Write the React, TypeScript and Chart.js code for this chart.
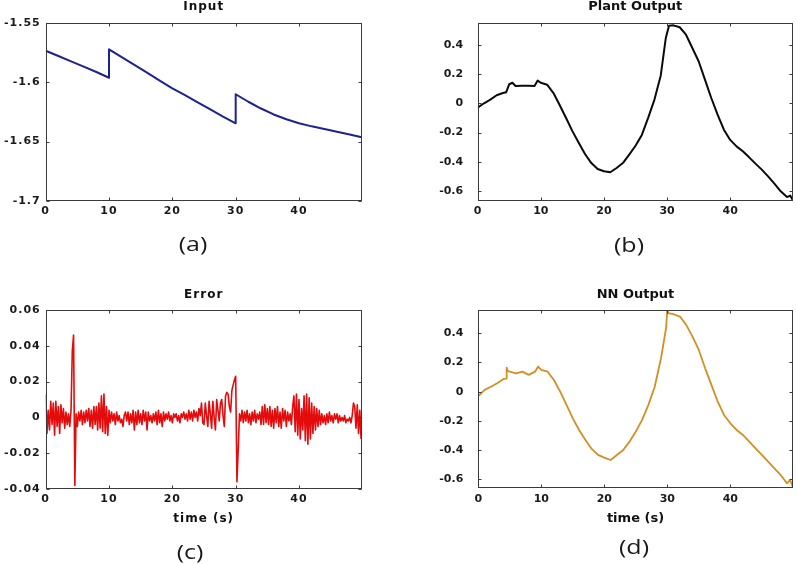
import React, { useEffect, useRef } from "react";
import { Chart, registerables } from "chart.js";

Chart.register(...registerables);

// ---------------- data ----------------
const timeMax = 49.9;
const timeTicks = [0, 10, 20, 30, 40];
const inputTicks = [-1.7, -1.65, -1.6, -1.55];
const outputTicks = [-0.6, -0.4, -0.2, 0, 0.2, 0.4];
const errorTicks = [-0.04, -0.02, 0, 0.02, 0.04, 0.06];

const inputTime = [0, 2, 4, 6, 8, 10, 10, 12, 14, 16, 18, 20, 22, 24, 26, 28, 30, 30, 32, 34, 36, 38, 40, 42, 44, 46, 48, 49.9];
const inputValues = [-1.5736, -1.578, -1.5825, -1.587, -1.5915, -1.5963, -1.5724, -1.579, -1.5855, -1.592, -1.5987, -1.6052, -1.611, -1.617, -1.623, -1.629, -1.6346, -1.6102, -1.6165, -1.6222, -1.6272, -1.6312, -1.6346, -1.6372, -1.6395, -1.6418, -1.644, -1.6464];

const plantTime = [0, 1, 2, 3, 4, 4.5, 5, 5.5, 6, 7, 8, 9, 9.5, 10, 11, 12, 13, 14, 15, 16, 17, 18, 19, 20, 21, 22, 23, 24, 25, 26, 27, 28, 29, 29.8, 30.3, 31, 32, 33, 34, 35, 36, 37, 38, 39, 40, 41, 42, 43, 44, 45, 46, 47, 48, 49, 49.5, 49.9];
const plantValues = [-0.03, 0.0, 0.025, 0.055, 0.07, 0.075, 0.13, 0.14, 0.118, 0.12, 0.12, 0.118, 0.155, 0.14, 0.127, 0.07, -0.014, -0.1, -0.19, -0.27, -0.346, -0.408, -0.449, -0.464, -0.471, -0.442, -0.408, -0.35, -0.29, -0.216, -0.1, 0.025, 0.19, 0.446, 0.53, 0.532, 0.519, 0.468, 0.377, 0.287, 0.161, 0.036, -0.078, -0.18, -0.25, -0.294, -0.328, -0.369, -0.412, -0.453, -0.499, -0.549, -0.601, -0.64, -0.63, -0.66];

const nnTime = [0, 1, 2, 3, 4, 4.4, 4.5, 4.7, 5, 6, 7, 8, 9, 9.5, 10, 11, 12, 13, 14, 15, 16, 17, 18, 19, 20, 21, 22, 23, 24, 25, 26, 27, 28, 29, 29.8, 30, 30.1, 31, 32, 33, 34, 35, 36, 37, 38, 39, 40, 41, 42, 43, 44, 45, 46, 47, 48, 49, 49.5, 49.9];
const nnValues = [-0.03, 0.012, 0.034, 0.058, 0.087, 0.09, 0.165, 0.14, 0.137, 0.126, 0.137, 0.115, 0.137, 0.172, 0.149, 0.137, 0.08, 0.0, -0.091, -0.183, -0.263, -0.331, -0.393, -0.434, -0.453, -0.469, -0.435, -0.4, -0.343, -0.274, -0.194, -0.091, 0.034, 0.229, 0.435, 0.56, 0.538, 0.531, 0.515, 0.458, 0.377, 0.286, 0.16, 0.046, -0.069, -0.16, -0.217, -0.263, -0.297, -0.343, -0.389, -0.434, -0.48, -0.526, -0.572, -0.629, -0.606, -0.652];

// error sampled every 0.2 s, from 0 to 49.8 s
const errorStep = 0.2;
const errorValues = [
  0.013, -0.009, 0.004, -0.007, 0.009, -0.004, 0.008, -0.010, 0.009, -0.005,
  0.006, -0.009, 0.007, -0.003, 0.005, -0.006, 0.003, -0.004, 0.002, -0.005,
  0.004, 0.037, 0.046, -0.038, 0.002, -0.005, 0.003, -0.002, 0.004, -0.004,
  0.003, -0.003, 0.004, -0.002, 0.005, -0.005, 0.004, -0.006, 0.006, -0.004,
  0.006, -0.007, 0.008, -0.006, 0.012, -0.008, 0.013, -0.009, 0.006, -0.010,
  0.004, -0.003, 0.003, -0.002, 0.002, -0.004, 0.003, -0.002, 0.001, -0.003,
  -0.001, -0.005, 0.001, 0.003, -0.002, 0.003, -0.004, 0.002, -0.003, 0.004,
  -0.007, 0.003, -0.004, 0.004, -0.003, 0.002, -0.004, 0.004, -0.002, 0.003,
  -0.007, 0.003, -0.002, 0.001, -0.003, 0.002, -0.002, 0.003, -0.004, 0.004,
  -0.003, 0.002, -0.005, 0.003, -0.002, 0.002, -0.001, 0.003, -0.002, 0.001,
  -0.003, 0.002, 0.000, 0.002, -0.002, 0.001, -0.003, 0.002, 0.000, 0.003,
  -0.001, 0.002, -0.002, 0.004, -0.001, 0.003, -0.002, 0.004, 0.000, 0.003,
  -0.002, 0.005, 0.001, 0.008, -0.003, -0.004, 0.008, 0.001, -0.005, 0.009,
  0.002, -0.006, 0.009, 0.000, -0.007, 0.010, 0.004, -0.002, 0.008, 0.010,
  0.001, -0.005, 0.012, 0.014, 0.013, 0.006, 0.003, 0.015, 0.018, 0.021,
  0.023, -0.036, -0.018, 0.002, -0.002, 0.004, -0.003, 0.003, -0.002, 0.004,
  -0.003, 0.002, -0.004, 0.003, -0.002, 0.004, -0.003, 0.002, -0.001, 0.003,
  -0.004, 0.006, -0.004, 0.007, -0.003, 0.005, -0.004, 0.006, -0.005, 0.004,
  -0.006, 0.005, -0.003, 0.006, -0.005, 0.003, -0.006, 0.005, -0.002, 0.004,
  -0.005, 0.003, -0.002, 0.002, -0.004, 0.006, 0.012, -0.008, 0.013, -0.010,
  0.010, -0.012, 0.005, -0.007, 0.012, -0.013, 0.013, -0.015, 0.011, -0.012,
  0.008, -0.009, 0.006, -0.007, 0.005, -0.005, 0.004, -0.004, 0.002, -0.003,
  0.001, -0.004, 0.002, -0.003, 0.003, -0.002, 0.001, -0.003, 0.002, -0.001,
  0.002, -0.003, 0.001, -0.002, 0.000, -0.002, 0.001, -0.003, -0.001, -0.002,
  0.000, -0.003, 0.001, 0.008, 0.006, -0.006, 0.007, -0.009, 0.004, -0.012,
];
const errorTime = errorValues.map((_, i) => Math.round(i * errorStep * 10) / 10);

// ---------------- styling / layout ----------------
const FAMILY = "'DejaVu Sans', sans-serif";
const TICK_FONT = { family: FAMILY, weight: "bold" as const, size: 11 };

const fmt = (v: number) => {
  const r = Math.round(v * 1000) / 1000;
  return r === 0 ? "0" : String(r);
};

const framePlugin = {
  id: "matlabFrame",
  beforeDraw(chart: any, _args: any, opts: any) {
    try { chart.ctx.letterSpacing = (opts && opts.spacing) || "0px"; } catch (e) { /* ignore */ }
  },
  afterDraw(chart: any) {
    const ctx = chart.ctx;
    const { left, right, top, bottom } = chart.chartArea;
    const L = Math.round(left) + 0.5, R = Math.round(right) - 0.5;
    const T = Math.round(top) + 0.5, B = Math.round(bottom) - 0.5;
    ctx.save();
    ctx.strokeStyle = "#3a3a3a";
    ctx.lineWidth = 1;
    ctx.strokeRect(L, T, R - L, B - T);
    const tl = 3;
    ctx.beginPath();
    const xs = chart.scales.x;
    xs.ticks.forEach((t: any) => {
      const px = Math.round(xs.getPixelForValue(t.value)) + 0.5;
      ctx.moveTo(px, B); ctx.lineTo(px, B - tl);
      ctx.moveTo(px, T); ctx.lineTo(px, T + tl);
    });
    const ys = chart.scales.y;
    ys.ticks.forEach((t: any) => {
      const py = Math.round(ys.getPixelForValue(t.value)) + 0.5;
      ctx.moveTo(L, py); ctx.lineTo(L + tl, py);
      ctx.moveTo(R, py); ctx.lineTo(R - tl, py);
    });
    ctx.stroke();
    ctx.restore();
    try { ctx.letterSpacing = "0px"; } catch (e) { /* ignore */ }
  },
};

type PanelSpec = {
  id: string;
  left: number; top: number; width: number; height: number;
  title: string; label: string; labelX: number; labelY: number; xTitle?: string;
  times: number[]; values: number[];
  color: string; lineWidth: number;
  yMin: number; yMax: number; yTicks: number[];
  pad: { left: number; right: number; top: number; bottom: number };
  yAxisWidth: number; xAxisHeight: number; yTickPad: number;
  titlePad: { top: number; bottom: number };
  titleSize: number; spacing: string;
  xTitlePadBottom?: number;
};

const panels: PanelSpec[] = [
  {
    id: "a", left: 0, top: 0, width: 400, height: 268,
    title: "Input", label: "(a)", labelX: 193, labelY: 244,
    times: inputTime, values: inputValues, color: "#1c2390", lineWidth: 2,
    yMin: -1.7, yMax: -1.55, yTicks: inputTicks,
    pad: { left: 0, right: 38.3, top: 0, bottom: 37 },
    yAxisWidth: 45.7, xAxisHeight: 30, yTickPad: 5,
    titlePad: { top: 1, bottom: 9.7 }, titleSize: 12, spacing: "1px",
  },
  {
    id: "b", left: 400, top: 0, width: 397, height: 268,
    title: "Plant Output", label: "(b)", labelX: 629.3, labelY: 244.7,
    times: plantTime, values: plantValues, color: "#0a0a0a", lineWidth: 2,
    yMin: -0.667, yMax: 0.55, yTicks: outputTicks,
    pad: { left: 0, right: 4.3, top: 0, bottom: 37 },
    yAxisWidth: 77.7, xAxisHeight: 30, yTickPad: 14.5,
    titlePad: { top: 0.5, bottom: 9.2 }, titleSize: 13, spacing: "0px",
  },
  {
    id: "c", left: 0, top: 280, width: 400, height: 284,
    title: "Error", label: "(c)", labelX: 190, labelY: 551.7, xTitle: "time (s)",
    times: errorTime, values: errorValues, color: "#e30b0b", lineWidth: 1.6,
    yMin: -0.04, yMax: 0.06, yTicks: errorTicks,
    pad: { left: 0, right: 38.3, top: 0, bottom: 35 },
    yAxisWidth: 45.7, xAxisHeight: 40, yTickPad: 5,
    titlePad: { top: 9, bottom: 9 }, titleSize: 12, spacing: "1px",
    xTitlePadBottom: 4.5,
  },
  {
    id: "d", left: 400, top: 280, width: 397, height: 284,
    title: "NN Output", label: "(d)", labelX: 633.5, labelY: 547, xTitle: "time (s)",
    times: nnTime, values: nnValues, color: "#d38f22", lineWidth: 1.8,
    yMin: -0.663, yMax: 0.56, yTicks: outputTicks,
    pad: { left: 0, right: 4.3, top: 0, bottom: 35 },
    yAxisWidth: 78.3, xAxisHeight: 40.7, yTickPad: 15,
    titlePad: { top: 8.5, bottom: 8.5 }, titleSize: 13, spacing: "0px",
    xTitlePadBottom: 4,
  },
];

function buildConfig(p: PanelSpec): any {
  const titleFont = { family: FAMILY, weight: "bold" as const, size: p.titleSize, lineHeight: 1 };
  return {
    type: "line",
    data: {
      datasets: [
        {
          label: p.title,
          data: p.times.map((t, i) => ({ x: t, y: p.values[i] })),
          borderColor: p.color,
          backgroundColor: p.color,
          borderWidth: p.lineWidth,
          pointRadius: 0,
          tension: 0,
          fill: false,
          borderJoinStyle: "round",
        },
      ],
    },
    options: {
      responsive: false,
      animation: false,
      devicePixelRatio: 1,
      layout: { padding: p.pad },
      plugins: {
        legend: { display: false },
        tooltip: { enabled: false },
        matlabFrame: { spacing: p.spacing },
        title: {
          display: true,
          text: p.title,
          fullSize: false,
          color: "#111",
          font: titleFont,
          padding: p.titlePad,
        },
      },
      scales: {
        x: {
          type: "linear",
          min: 0,
          max: timeMax,
          grid: { display: false, drawTicks: false },
          border: { display: false },
          afterBuildTicks: (s: any) => {
            s.ticks = timeTicks.map((v) => ({ value: v }));
          },
          ticks: {
            maxRotation: 0,
            autoSkip: false,
            padding: 4,
            color: "#1a1a1a",
            font: TICK_FONT,
            callback: (v: number) => fmt(v),
          },
          title: p.xTitle
            ? {
                display: true,
                text: p.xTitle,
                color: "#111",
                font: titleFont,
                padding: { top: 0, bottom: p.xTitlePadBottom },
              }
            : { display: false },
          afterFit: (s: any) => {
            s.height = p.xAxisHeight;
            s.paddingLeft = 0;
            s.paddingRight = 0;
          },
        },
        y: {
          type: "linear",
          min: p.yMin,
          max: p.yMax,
          grid: { display: false, drawTicks: false },
          border: { display: false },
          afterBuildTicks: (s: any) => {
            s.ticks = p.yTicks.map((v) => ({ value: v }));
          },
          ticks: {
            autoSkip: false,
            padding: p.yTickPad,
            color: "#1a1a1a",
            font: TICK_FONT,
            callback: (v: number) => fmt(v),
          },
          afterFit: (s: any) => {
            s.width = p.yAxisWidth;
            s.paddingTop = 0;
            s.paddingBottom = 0;
          },
        },
      },
    },
    plugins: [framePlugin],
  };
}

function Panel({ spec }: { spec: PanelSpec }) {
  const ref = useRef<HTMLCanvasElement | null>(null);
  useEffect(() => {
    if (!ref.current) return;
    const chart = new Chart(ref.current, buildConfig(spec));
    return () => chart.destroy();
  }, [spec]);
  return (
    <>
      <canvas
        ref={ref}
        width={spec.width}
        height={spec.height}
        style={{
          position: "absolute",
          left: spec.left,
          top: spec.top,
          width: spec.width,
          height: spec.height,
        }}
      />
      <div
        style={{
          position: "absolute",
          left: spec.labelX,
          top: spec.labelY,
          transform: "translate(-50%, -50%) scaleX(1.25)",
          fontFamily: "'Open Sans', sans-serif",
          fontSize: 20,
          lineHeight: "20px",
          color: "#1a1a1a",
          whiteSpace: "nowrap",
        }}
      >
        {spec.label}
      </div>
    </>
  );
}

export default function App() {
  return (
    <div
      style={{
        position: "absolute",
        left: 0,
        top: 0,
        width: 797,
        height: 564,
        background: "#ffffff",
        overflow: "hidden",
      }}
    >
      {panels.map((p) => (
        <Panel key={p.id} spec={p} />
      ))}
    </div>
  );
}
